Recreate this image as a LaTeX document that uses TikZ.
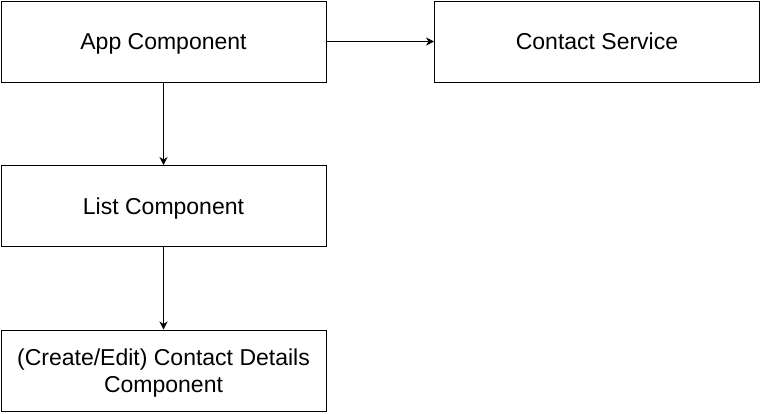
\documentclass[tikz,border=0pt]{standalone}
\usepackage{fontspec}
\setmainfont{Liberation Sans}
\usetikzlibrary{arrows.meta}
\begin{document}
\begin{tikzpicture}[x=1pt,y=-1pt,
  box/.style={draw=black,line width=1pt,minimum width=325pt,minimum height=81pt,
    inner sep=0pt,text depth=0pt,align=center,font=\fontsize{23}{27}\selectfont},
  link/.style={draw=black,line width=1pt,-{Stealth[length=8pt,width=8pt,inset=2.5pt]}}]
\useasboundingbox (0,0) rectangle (761,413);
\node[box] (app) at (163.5,41.5) {App Component};
\node[box] (svc) at (597,41.5) {Contact Service};
\node[box] (list) at (163.5,206) {List Component};
\node[box] (det) at (163.5,370.5) {(Create/Edit) Contact Details\\Component};
\draw[link] (app.east) -- (svc.west);
\draw[link] (app.south) -- (list.north);
\draw[link] (list.south) -- (det.north);
\end{tikzpicture}
\end{document}
